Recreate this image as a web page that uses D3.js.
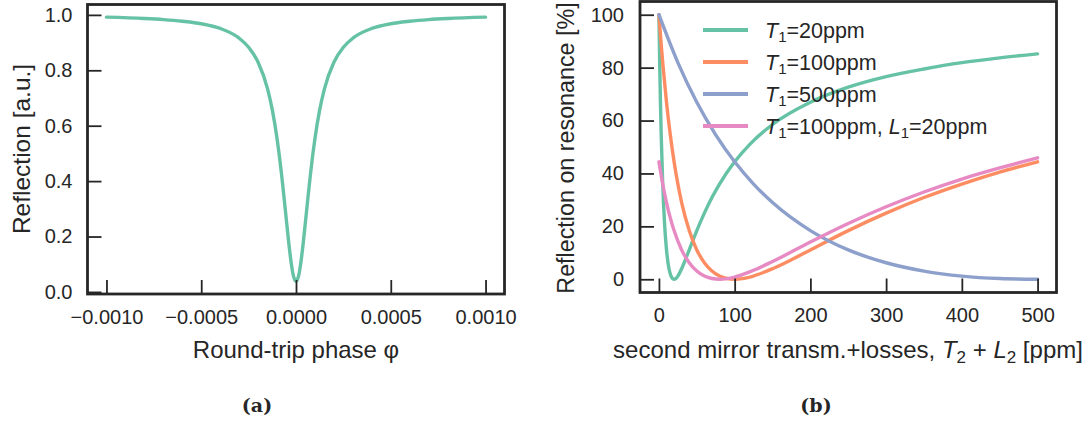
<!DOCTYPE html>
<html>
<head>
<meta charset="utf-8">
<script src="https://cdn.jsdelivr.net/npm/d3@7"></script>
<style>
  body { margin: 0; background: #fff; }
  svg { display: block; }
  text { font-family: "Liberation Sans", Arial, sans-serif; fill: #262626; }
</style>
</head>
<body>
<svg id="fig" width="1085" height="423"></svg>
<script>
// ---- Panel (a): cavity reflection vs round-trip phase ----
const phase = [
  -0.0010, -0.0008, -0.0007, -0.0006, -0.0005, -0.0004, -0.0003, -0.00025, -0.0002,
  -0.00015, -0.000125, -0.0001, -0.0000875, -0.000075, -0.0000625, -0.00005,
  -0.0000375, -0.000025, -0.0000125, 0,
  0.0000125, 0.000025, 0.0000375, 0.00005, 0.0000625, 0.000075, 0.0000875, 0.0001,
  0.000125, 0.00015, 0.0002, 0.00025, 0.0003, 0.0004, 0.0005, 0.0006, 0.0007, 0.0008, 0.0010
];
const reflection = [
  0.992, 0.987, 0.983, 0.977, 0.968, 0.951, 0.916, 0.883, 0.829,
  0.733, 0.657, 0.554, 0.490, 0.417, 0.337, 0.254,
  0.173, 0.103, 0.055, 0.038,
  0.055, 0.103, 0.173, 0.254, 0.337, 0.417, 0.490, 0.554,
  0.657, 0.733, 0.829, 0.883, 0.916, 0.951, 0.968, 0.977, 0.983, 0.987, 0.992
];
const phaseTicks = [-0.0010, -0.0005, 0.0000, 0.0005, 0.0010];
const reflTicks = [0.0, 0.2, 0.4, 0.6, 0.8, 1.0];

// ---- Panel (b): reflection on resonance vs T2 + L2 ----
const t20X = [0, 1, 2, 3, 5, 7.5, 10, 12.5, 15, 17.5, 20, 22.5, 25, 30, 35, 40, 50, 60, 70, 80, 100, 120, 150, 200, 250, 300, 350, 400, 450, 500];
const t20Y = [100, 81.9, 66.9, 54.6, 36.0, 20.7, 11.1, 5.3, 2.0, 0.44, 0, 0.35, 1.2, 4.0, 7.4, 11.1, 18.4, 25.0, 30.9, 36.0, 44.4, 51.0, 58.5, 66.9, 72.6, 76.6, 79.5, 81.9, 83.7, 85.2];

const t100X = [0, 2.5, 5, 10, 15, 20, 25, 30, 40, 50, 60, 70, 80, 90, 100, 110, 120, 150, 175, 200, 250, 300, 350, 400, 450, 500];
const t100Y = [100, 90.5, 81.9, 66.9, 54.6, 44.4, 36.0, 29.0, 18.4, 11.1, 6.25, 3.1, 1.2, 0.28, 0, 0.23, 0.83, 4.0, 7.4, 11.1, 18.4, 25.0, 30.9, 36.0, 40.5, 44.4];

const t500X = [0, 25, 50, 75, 100, 125, 150, 200, 250, 300, 350, 400, 450, 500];
const t500Y = [100, 81.9, 66.9, 54.6, 44.4, 36.0, 29.0, 18.4, 11.1, 6.25, 3.1, 1.2, 0.28, 0];

const t100l20X = [0, 5, 10, 15, 20, 30, 40, 50, 60, 70, 80, 90, 100, 120, 150, 200, 250, 300, 350, 400, 450, 500];
const t100l20Y = [44.4, 36.0, 29.0, 23.2, 18.4, 11.1, 6.25, 3.1, 1.2, 0.28, 0, 0.23, 0.83, 2.8, 6.7, 14.1, 21.1, 27.4, 33.0, 37.9, 42.1, 45.9];

const seriesNames = ["20ppm", "100ppm", "500ppm", "100ppm, "];
const seriesColors = ["#66c2a5", "#fc8d62", "#8da0cb", "#e78ac3"];
const lossTicks = [0, 100, 200, 300, 400, 500];
const percentTicks = [0, 20, 40, 60, 80, 100];

const ink = "#262626";
const tickFont = "20px";
const labelFont = "24.5px";
const svg = d3.select("#fig");

function frame(g, x0, x1, y0, y1) {
  g.append("rect")
    .attr("x", x0).attr("y", y0)
    .attr("width", x1 - x0).attr("height", y1 - y0)
    .attr("fill", "none").attr("stroke", ink).attr("stroke-width", 2.8);
}

function styleAxis(sel) {
  sel.select(".domain").remove();
  sel.selectAll(".tick line").attr("stroke", ink).attr("stroke-width", 1.8);
  sel.selectAll(".tick text").attr("fill", ink).style("font-size", tickFont)
    .style("font-family", '"Liberation Sans", Arial, sans-serif');
}

// ---------- panel (a) ----------
const ax = d3.scaleLinear().domain([-0.0011, 0.0011]).range([87.5, 504.5]);
const ay = d3.scaleLinear().domain([-0.0075, 1.0375]).range([294, 4.5]);
const ga = svg.append("g");

const curveA = phase.map((p, i) => [p, reflection[i]]);
ga.append("path")
  .datum(curveA)
  .attr("fill", "none")
  .attr("stroke", seriesColors[0])
  .attr("stroke-width", 3.4)
  .attr("stroke-linecap", "round")
  .attr("d", d3.line().x(d => ax(d[0])).y(d => ay(d[1])).curve(d3.curveMonotoneX));

ga.append("g").attr("transform", "translate(87.5,0)")
  .call(d3.axisLeft(ay).tickValues(reflTicks).tickSize(-14).tickPadding(15)
    .tickFormat(d3.format(".1f")))
  .call(styleAxis);
ga.append("g").attr("transform", "translate(0,294)")
  .call(d3.axisBottom(ax).tickValues(phaseTicks).tickSize(-14).tickPadding(16)
    .tickFormat(d => d3.format(".4f")(d).replace("-", "\u2212")))
  .call(styleAxis);
frame(ga, 87.5, 504.5, 4.5, 294);

ga.append("text").attr("x", 296).attr("y", 358).attr("text-anchor", "middle")
  .style("font-size", "24px").text("Round-trip phase \u03c6");
ga.append("text").attr("transform", "translate(30,149) rotate(-90)")
  .attr("text-anchor", "middle").style("font-size", labelFont).text("Reflection [a.u.]");
ga.append("text").attr("x", 257).attr("y", 412).attr("text-anchor", "middle")
  .style("font-family", '"DejaVu Serif", serif').style("font-weight", "bold")
  .style("font-size", "19px").text("(a)");

// ---------- panel (b) ----------
const bx = d3.scaleLinear().domain([-25, 525]).range([640, 1056.5]);
const by = d3.scaleLinear().domain([-5, 105]).range([292.5, 1.5]);
const gb = svg.append("g");

const seriesB = [
  t20X.map((x, i) => [x, t20Y[i]]),
  t100X.map((x, i) => [x, t100Y[i]]),
  t500X.map((x, i) => [x, t500Y[i]]),
  t100l20X.map((x, i) => [x, t100l20Y[i]])
];
const lineB = d3.line().x(d => bx(d[0])).y(d => by(d[1])).curve(d3.curveMonotoneX);
gb.selectAll("path.series").data(seriesB).enter().append("path")
  .attr("class", "series")
  .attr("fill", "none")
  .attr("stroke", (d, i) => seriesColors[i])
  .attr("stroke-width", 3.4)
  .attr("stroke-linecap", "round")
  .attr("d", lineB);

gb.append("g").attr("transform", "translate(640,0)")
  .call(d3.axisLeft(by).tickValues(percentTicks).tickSize(-14).tickPadding(16))
  .call(styleAxis);
gb.append("g").attr("transform", "translate(0,292.5)")
  .call(d3.axisBottom(bx).tickValues(lossTicks).tickSize(-14).tickPadding(15))
  .call(styleAxis);
frame(gb, 640, 1056.5, 1.5, 292.5);

// legend
const legend = gb.append("g");
seriesNames.forEach((name, i) => {
  const yy = 30 + i * 32;
  legend.append("line").attr("x1", 703).attr("x2", 748).attr("y1", yy).attr("y2", yy)
    .attr("stroke", seriesColors[i]).attr("stroke-width", 3.8);
  const t = legend.append("text").attr("x", 765).attr("y", yy + 7.5).style("font-size", "21.5px");
  t.append("tspan").style("font-style", "italic").text("T");
  t.append("tspan").attr("dy", 4).style("font-size", "15px").text("1");
  t.append("tspan").attr("dy", -4).text("=" + name);
  if (i === 3) {
    t.append("tspan").style("font-style", "italic").text("L");
    t.append("tspan").attr("dy", 4).style("font-size", "15px").text("1");
    t.append("tspan").attr("dy", -4).text("=20ppm");
  }
});

const xl = gb.append("text").attr("x", 848).attr("y", 358).attr("text-anchor", "middle")
  .style("font-size", "24px");
xl.append("tspan").text("second mirror transm.+losses, ");
xl.append("tspan").style("font-style", "italic").text("T");
xl.append("tspan").attr("dy", 5).style("font-size", "17px").text("2");
xl.append("tspan").attr("dy", -5).text(" + ");
xl.append("tspan").style("font-style", "italic").text("L");
xl.append("tspan").attr("dy", 5).style("font-size", "17px").text("2");
xl.append("tspan").attr("dy", -5).text(" [ppm]");

gb.append("text").attr("transform", "translate(574,148) rotate(-90)")
  .attr("text-anchor", "middle").style("font-size", "23.3px").text("Reflection on resonance [%]");
gb.append("text").attr("x", 816).attr("y", 412).attr("text-anchor", "middle")
  .style("font-family", '"DejaVu Serif", serif').style("font-weight", "bold")
  .style("font-size", "19px").text("(b)");
</script>
</body>
</html>
